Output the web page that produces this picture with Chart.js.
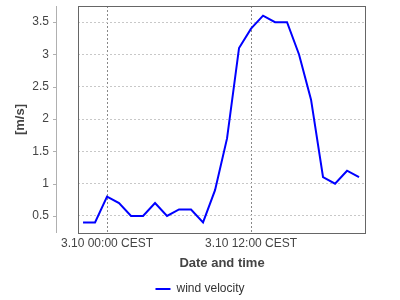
<!DOCTYPE html>
<html>
<head>
<meta charset="utf-8">
<script src="https://cdn.jsdelivr.net/npm/chart.js@4"></script>
<style>
  html, body { margin: 0; padding: 0; background: #fff; }
  #box { width: 400px; height: 300px; }
</style>
</head>
<body>
<div id="box"><canvas id="grafico"></canvas></div>
<script>
// hours relative to 3.10 00:00 CEST
const horas = [-2, -1, 0, 1, 2, 3, 4, 5, 6, 7, 8, 9, 10, 11, 12, 13, 14, 15, 16, 17, 18, 19, 20, 21]
const velocidade = [0.4, 0.4, 0.8, 0.7, 0.5, 0.5, 0.7, 0.5, 0.6, 0.6, 0.4, 0.9,
                    1.7, 3.1, 3.4, 3.6, 3.5, 3.5, 3.0, 2.3, 1.1, 1.0, 1.2, 1.1]
const xTicks = [0, 12]
const xTickLabels = ['3.10 00:00 CEST', '3.10 12:00 CEST']
const yTicks = [0.5, 1, 1.5, 2, 2.5, 3, 3.5]

const fonte = 'Liberation Sans, Arial, sans-serif'

// y axis line drawn apart from the plot box, plus the plot border
const eixoY = {
    id: 'eixoY',
    afterDraw(chart) {
        const ctx = chart.ctx
        const y = chart.scales.y
        const a = chart.chartArea
        ctx.save()
        ctx.strokeStyle = '#b0b0b0'
        ctx.lineWidth = 1
        ctx.beginPath()
        ctx.moveTo(56.5, a.top)
        ctx.lineTo(56.5, a.bottom)
        y.ticks.forEach(t => {
            const py = Math.round(y.getPixelForValue(t.value)) + 0.5
            ctx.moveTo(53, py)
            ctx.lineTo(56.5, py)
        })
        ctx.stroke()
        ctx.strokeStyle = '#666'
        ctx.strokeRect(Math.round(a.left) + 0.5, Math.round(a.top) + 0.5,
                       Math.round(a.right - a.left) - 1, Math.round(a.bottom - a.top))
        ctx.restore()
    }
}

const data = {
    datasets: [{
        label: 'wind velocity',
        data: horas.map((h, i) => ({ x: h, y: velocidade[i] })),
        borderColor: '#0000ff',
        backgroundColor: '#0000ff',
        borderWidth: 2,
        pointRadius: 0,
        tension: 0,
        fill: false
    }]
}

const config = {
    type: 'line',
    data: data,
    options: {
        responsive: true,
        maintainAspectRatio: false,
        animation: false,
        layout: { padding: { top: 6, right: 0, left: 0, bottom: -5 } },
        plugins: {
            tooltip: { enabled: false },
            legend: {
                display: true,
                position: 'bottom',
                labels: {
                    color: '#333',
                    font: { family: fonte, size: 12 },
                    boxWidth: 15,
                    boxHeight: 2,
                    padding: 6,
                    generateLabels(chart) {
                        return Chart.defaults.plugins.legend.labels.generateLabels(chart)
                            .map(l => Object.assign(l, { lineWidth: 0 }))
                    }
                }
            }
        },
        scales: {
            x: {
                type: 'linear',
                min: -2.42,
                max: 21.58,
                afterBuildTicks(scale) {
                    scale.ticks = xTicks.map(v => ({ value: v }))
                },
                afterFit(scale) { scale.height = 44 },
                border: { display: false, dash: [2, 2] },
                grid: {
                    color: '#888',
                    drawTicks: false
                },
                ticks: {
                    autoSkip: false,
                    maxRotation: 0,
                    padding: 3,
                    color: '#444',
                    font: { family: fonte, size: 12 },
                    callback: (v) => xTickLabels[xTicks.indexOf(v)]
                },
                title: {
                    display: true,
                    text: 'Date and time',
                    color: '#444',
                    font: { family: fonte, size: 13, weight: 'bold' },
                    padding: { top: 0, bottom: 6 }
                }
            },
            y: {
                min: 0.236,
                max: 3.75,
                afterBuildTicks(scale) {
                    scale.ticks = yTicks.map(v => ({ value: v }))
                },
                afterFit(scale) { scale.width = 78 },
                border: { display: false, dash: [2, 2] },
                grid: {
                    color: '#c8c8c8',
                    drawTicks: true,
                    tickLength: 29,
                    tickColor: 'rgba(0,0,0,0)'
                },
                ticks: {
                    padding: 0,
                    color: '#444',
                    font: { family: fonte, size: 12, lineHeight: 1 },
                    callback: (v) => String(v)
                },
                title: {
                    display: true,
                    text: '[m/s]',
                    color: '#444',
                    font: { family: fonte, size: 13, weight: 'bold' },
                    padding: { top: 13, bottom: 0 }
                }
            },
            // empty axis only to keep room at the right of the plot
            direita: {
                position: 'right',
                afterFit(scale) { scale.width = 34 },
                border: { display: false },
                grid: { display: false },
                ticks: { display: false }
            }
        }
    },
    plugins: [eixoY]
}

const grafic = new Chart(document.getElementById('grafico').getContext('2d'), config)
</script>
</body>
</html>
